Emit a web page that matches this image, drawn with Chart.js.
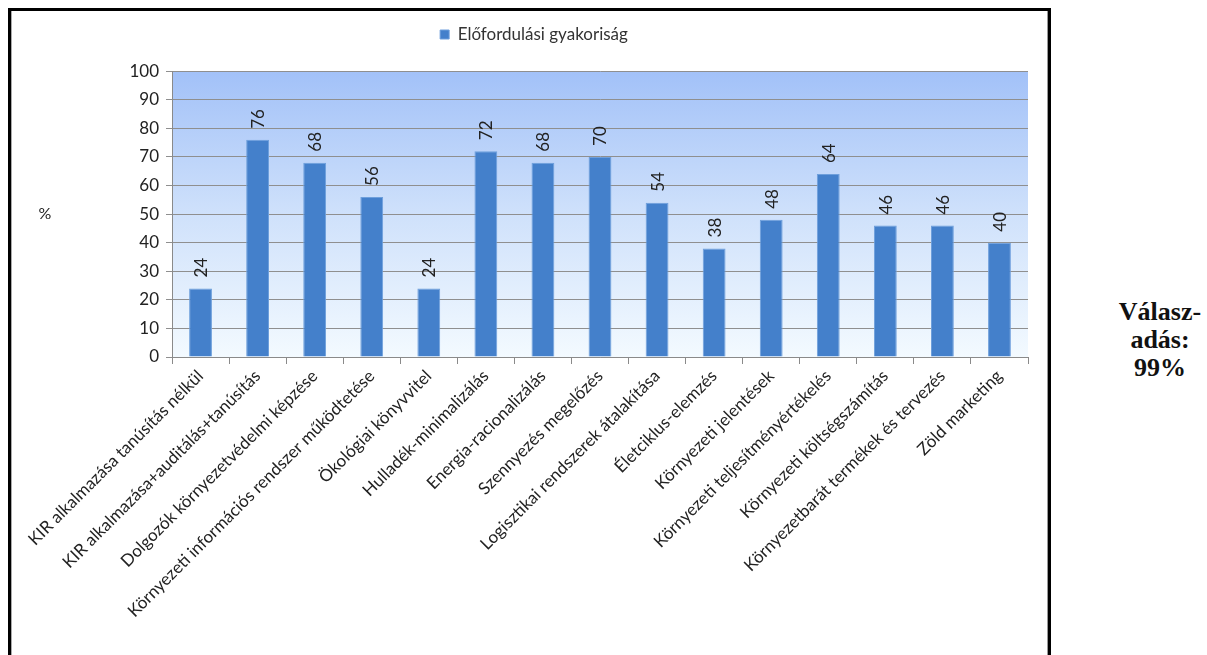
<!DOCTYPE html>
<html>
<head>
<meta charset="utf-8">
<script src="https://cdn.jsdelivr.net/npm/chart.js@4.4.1/dist/chart.umd.min.js"></script>
<style>
  html, body { margin: 0; padding: 0; background: #fff; }
  body { width: 1207px; height: 655px; position: relative; overflow: hidden; }
  #frame { position: absolute; left: 8px; top: 8px; width: 1037px; height: 700px;
           border: 3px solid #000; box-sizing: content-box; }
  #frameInner { position: absolute; left: 11px; top: 11px; width: 1px; height: 700px; background: #aaa; }
  #frameInnerR { position: absolute; left: 1047px; top: 11px; width: 1px; height: 700px; background: #999; }
  #wrap { position: absolute; left: 12px; top: 0px; width: 1036px; height: 655px; }
  #side { position: absolute; left: 1100px; top: 298px; width: 120px; text-align: center;
          font-family: "Liberation Serif", "DejaVu Serif", serif; font-weight: bold;
          font-size: 26px; line-height: 28px; color: #111; }
</style>
</head>
<body>
<div id="frame"></div>
<div id="frameInner"></div>
<div id="frameInnerR"></div>
<div id="wrap"><canvas id="c"></canvas></div>
<div id="side">Válasz-<br>adás:<br>99%</div>
<script>
const categories = [
  "KIR alkalmazása tanúsítás nélkül",
  "KIR alkalmazása+auditálás+tanúsítás",
  "Dolgozók környezetvédelmi képzése",
  "Környezeti információs rendszer működtetése",
  "Ökológiai könyvvitel",
  "Hulladék-minimalizálás",
  "Energia-racionalizálás",
  "Szennyezés megelőzés",
  "Logisztikai rendszerek átalakítása",
  "Életciklus-elemzés",
  "Környezeti jelentések",
  "Környezeti teljesítményértékelés",
  "Környezeti költségszámítás",
  "Környezetbarát termékek és tervezés",
  "Zöld marketing"
];
const seriesName = "Előfordulási gyakoriság";
const values = [24, 76, 68, 56, 24, 72, 68, 70, 54, 38, 48, 64, 46, 46, 40];
const yTicks = [0, 10, 20, 30, 40, 50, 60, 70, 80, 90, 100];
const yAxisLabel = "%";

const FONT = "Lato, 'Open Sans', sans-serif";

const bgPlugin = {
  id: 'bgGrad',
  beforeDraw(chart) {
    const { ctx, chartArea: a } = chart;
    const g = ctx.createLinearGradient(0, a.top, 0, a.bottom);
    g.addColorStop(0, '#a2c1f8');
    g.addColorStop(0.5, '#cfe1fb');
    g.addColorStop(1, '#f3faff');
    ctx.save();
    ctx.fillStyle = g;
    ctx.fillRect(a.left, a.top, a.right - a.left, a.bottom - a.top);
    ctx.restore();
  }
};

const valueLabels = {
  id: 'valueLabels',
  afterDatasetsDraw(chart) {
    const { ctx } = chart;
    const meta = chart.getDatasetMeta(0);
    ctx.save();
    ctx.font = "17px " + FONT;
    ctx.fillStyle = '#222';
    ctx.textAlign = 'left';
    ctx.textBaseline = 'middle';
    meta.data.forEach((el, i) => {
      ctx.save();
      ctx.translate(el.x + 1, el.y - 11);
      ctx.rotate(-Math.PI / 2);
      ctx.fillText(String(chart.data.datasets[0].data[i]), 0, 0);
      ctx.restore();
    });
    ctx.restore();
  }
};

const yTitle = {
  id: 'yTitle',
  afterDraw(chart) {
    const { ctx, chartArea: a } = chart;
    ctx.save();
    ctx.font = "16px " + FONT;
    ctx.fillStyle = '#222';
    ctx.textAlign = 'center';
    ctx.textBaseline = 'middle';
    ctx.fillText(yAxisLabel, 33, (a.top + a.bottom) / 2);
    ctx.restore();
  }
};

new Chart(document.getElementById('c'), {
  type: 'bar',
  data: {
    labels: categories,
    datasets: [{
      label: seriesName,
      data: values,
      backgroundColor: '#4480cb',
      borderColor: '#6e9fdc',
      borderWidth: 1,
      categoryPercentage: 0.8,
      barPercentage: 0.5
    }]
  },
  options: {
    responsive: true,
    maintainAspectRatio: false,
    animation: false,
    layout: { padding: { top: 6, right: 20, left: 28, bottom: 0 } },
    plugins: {
      legend: {
        display: true,
        position: 'top',
        labels: {
          boxWidth: 9, boxHeight: 9, padding: 20,
          color: '#333',
          font: { family: FONT, size: 17 }
        }
      },
      subtitle: {
        display: true,
        text: ' ',
        position: 'top',
        weight: 500,
        font: { size: 1 },
        padding: { top: 17, bottom: 0 }
      },
      tooltip: { enabled: false }
    },
    scales: {
      x: {
        afterFit(scale) { scale.height = 298; },
        grid: { display: true, drawOnChartArea: false, drawTicks: true, tickLength: 7, color: '#8a8a8a', offset: true },
        border: { display: true, color: '#8a8a8a' },
        ticks: {
          autoSkip: false, minRotation: 45, maxRotation: 45,
          color: '#222', font: { family: FONT, size: 17 }, padding: 2
        }
      },
      y: {
        min: 0, max: 100,
        afterFit(scale) { scale.width = 132; },
        afterBuildTicks(scale) { scale.ticks = yTicks.map(v => ({ value: v })); },
        grid: { color: '#8f8f8f', tickLength: 6, drawTicks: true },
        border: { display: true, color: '#8a8a8a' },
        ticks: { color: '#222', font: { family: FONT, size: 17 }, padding: 7 }
      }
    }
  },
  plugins: [bgPlugin, valueLabels, yTitle]
});
</script>
</body>
</html>
